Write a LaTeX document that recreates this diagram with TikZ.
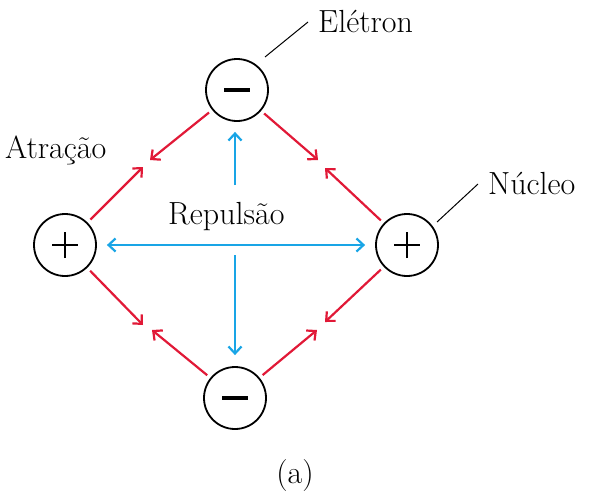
\documentclass[tikz,border=0pt]{standalone}
\usetikzlibrary{arrows.meta}
\definecolor{attr}{RGB}{225,25,55}
\definecolor{rep}{RGB}{25,165,230}
\begin{document}
\begin{tikzpicture}[x=1pt,y=-1pt,
  charge/.style={circle,draw,line width=1.8pt,minimum size=62pt,inner sep=0pt},
  plus/.style={charge,path picture={
     \draw[line width=2.6pt] ([xshift=-13pt]path picture bounding box.center) -- ([xshift=13pt]path picture bounding box.center);
     \draw[line width=2.6pt] ([yshift=-13pt]path picture bounding box.center) -- ([yshift=13pt]path picture bounding box.center);}},
  minus/.style={charge,path picture={
     \draw[line width=3.6pt] ([xshift=-13pt]path picture bounding box.center) -- ([xshift=13pt]path picture bounding box.center);}},
  attrarrow/.style={draw=attr,line width=2.2pt,-{Straight Barb[length=7pt,width=13pt,line width=2.2pt]},shorten <=4pt},
  reparrow/.style={draw=rep,line width=2.2pt},
  reptip/.style={{Straight Barb[length=7pt,width=13pt,line width=2.2pt]}},
  lbl/.style={font=\fontsize{32}{36}\selectfont,inner sep=0pt},
  leader/.style={draw,line width=1pt}]
\useasboundingbox (0,0) rectangle (596,499);
\node[minus] (eT) at (237,90) {};
\node[minus] (eB) at (235,398) {};
\node[plus] (nL) at (65,245) {};
\node[plus] (nR) at (407,245) {};
% attraction arrow heads
\coordinate (tlT) at (150,160);
\coordinate (tlL) at (143,167);
\coordinate (trT) at (318,160);
\coordinate (trR) at (325,168);
\coordinate (blL) at (143,325);
\coordinate (blB) at (152,330);
\coordinate (brR) at (325,322);
\coordinate (brB) at (317,330);
\draw[attrarrow] (eT) -- (tlT);
\draw[attrarrow] (nL) -- (tlL);
\draw[attrarrow] (eT) -- (trT);
\draw[attrarrow] (nR) -- (trR);
\draw[attrarrow] (nL) -- (blL);
\draw[attrarrow] (eB) -- (blB);
\draw[attrarrow] (nR) -- (brR);
\draw[attrarrow] (eB) -- (brB);
% repulsion
\coordinate (ru) at (235,185);
\coordinate (rd) at (235,255);
\draw[reparrow,-{Straight Barb[length=7pt,width=13pt,line width=2.2pt]},shorten >=10pt] (ru) -- (eT.south -| ru);
\draw[reparrow,-{Straight Barb[length=7pt,width=13pt,line width=2.2pt]},shorten >=11pt] (rd) -- (eB.north -| rd);
\draw[reparrow,{Straight Barb[length=7pt,width=13pt,line width=2.2pt]}-{Straight Barb[length=7pt,width=13pt,line width=2.2pt]},shorten >=10pt,shorten <=10pt] (nL) -- (nR);
% labels
\node[lbl,anchor=base west] (lE) at (318,32) {Elétron};
\node[lbl,anchor=base west] (lN) at (488,194) {Núcleo};
\node[lbl,anchor=base west] (lA) at (5,158) {Atração};
\node[lbl,anchor=base west] (lR) at (168,224) {Repulsão};
\node[lbl,anchor=base] (la) at (295,483) {(a)};
\coordinate (e1) at (265,57);
\coordinate (e2) at (308,22);
\coordinate (n1) at (437,222);
\coordinate (n2) at (478,184);
\draw[leader] (e1) -- (e2);
\draw[leader] (n1) -- (n2);
\end{tikzpicture}
\end{document}
